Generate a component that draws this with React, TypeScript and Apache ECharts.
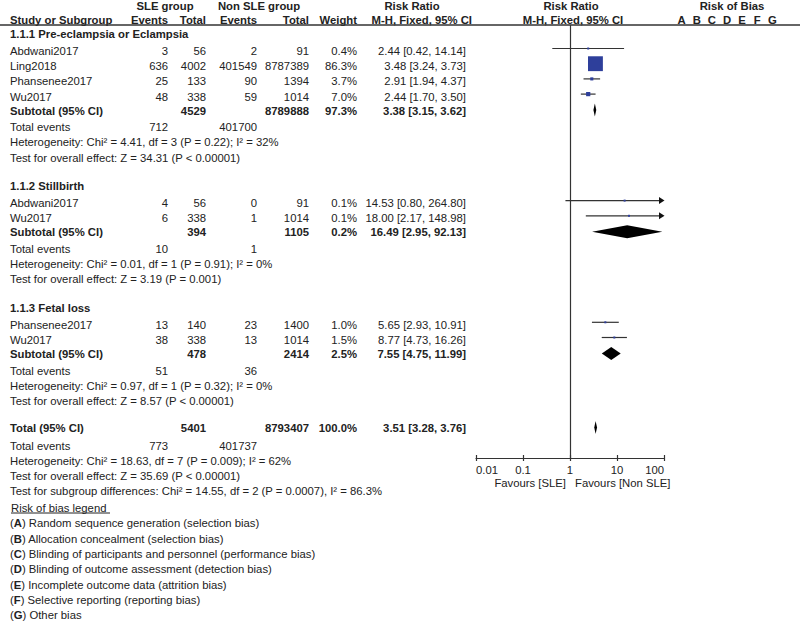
import React, { useEffect, useRef } from "react";
import * as echarts from "echarts";

// ---------- data ----------
const groupTitles = [
  "1.1.1 Pre-eclampsia or Eclampsia",
  "1.1.2 Stillbirth",
  "1.1.3 Fetal loss",
];
const studyGroup = [0, 0, 0, 0, 1, 1, 2, 2];
const studyNames = [
  "Abdwani2017",
  "Ling2018",
  "Phansenee2017",
  "Wu2017",
  "Abdwani2017",
  "Wu2017",
  "Phansenee2017",
  "Wu2017",
];
const sleEvents = [3, 636, 25, 48, 4, 6, 13, 38];
const sleTotal = [56, 4002, 133, 338, 56, 338, 140, 338];
const nonEvents = [2, 401549, 90, 59, 0, 1, 23, 13];
const nonTotal = [91, 8787389, 1394, 1014, 91, 1014, 1400, 1014];
const weights = [0.4, 86.3, 3.7, 7.0, 0.1, 0.1, 1.0, 1.5];
const rr = [2.44, 3.48, 2.91, 2.44, 14.53, 18.0, 5.65, 8.77];
const rrLo = [0.42, 3.24, 1.94, 1.7, 0.8, 2.17, 2.93, 4.73];
const rrHi = [14.14, 3.73, 4.37, 3.5, 264.8, 148.98, 10.91, 16.26];

const subSleTotal = [4529, 394, 478];
const subNonTotal = [8789888, 1105, 2414];
const subWeight = [97.3, 0.2, 2.5];
const subRR = [3.38, 16.49, 7.55];
const subLo = [3.15, 2.95, 4.75];
const subHi = [3.62, 92.13, 11.99];
const subSleEvents = [712, 10, 51];
const subNonEvents = [401700, 1, 36];
const subHet = [
  "Chi² = 4.41, df = 3 (P = 0.22); I² = 32%",
  "Chi² = 0.01, df = 1 (P = 0.91); I² = 0%",
  "Chi² = 0.97, df = 1 (P = 0.32); I² = 0%",
];
const subZ = [
  "Z = 34.31 (P < 0.00001)",
  "Z = 3.19 (P = 0.001)",
  "Z = 8.57 (P < 0.00001)",
];

const totalSle = 5401;
const totalNon = 8793407;
const totalWeight = 100.0;
const totalRR = 3.51;
const totalLo = 3.28;
const totalHi = 3.76;
const totalSleEvents = 773;
const totalNonEvents = 401737;
const totalHet = "Chi² = 18.63, df = 7 (P = 0.009); I² = 62%";
const totalZ = "Z = 35.69 (P < 0.00001)";
const subgroupDiff = "Chi² = 14.55, df = 2 (P = 0.0007), I² = 86.3%";

const tickLabels = ["0.01", "0.1", "1", "10", "100"];
const biasLetters = ["A", "B", "C", "D", "E", "F", "G"];
const biasLegend = [
  "Random sequence generation (selection bias)",
  "Allocation concealment (selection bias)",
  "Blinding of participants and personnel (performance bias)",
  "Blinding of outcome assessment (detection bias)",
  "Incomplete outcome data (attrition bias)",
  "Selective reporting (reporting bias)",
  "Other bias",
];

// ---------- layout ----------
const FONT = 'Arial, "Liberation Sans", sans-serif';
const FS = 11.3;
const COLOR = "#222";
const X_LABEL = 10;
const X_EV1 = 168;
const X_TOT1 = 206;
const X_EV2 = 257;
const X_TOT2 = 309;
const X_W = 357;
const X_RR = 466;
const PLOT_LEFT = 476;
const PLOT_WIDTH = 188;
const PLOT_TOP = 25;
const PLOT_BOTTOM = 458;

function computeLayout() {
  const studyY: number[] = [];
  const headY: number[] = [];
  const subY: number[] = [];
  const teY: number[] = [];
  const hetY: number[] = [];
  const testY: number[] = [];
  let y = 34;
  for (let g = 0; g < groupTitles.length; g++) {
    headY[g] = y;
    y += 17;
    studyGroup.forEach((sg, i) => {
      if (sg === g) {
        studyY[i] = y;
        y += 15.2;
      }
    });
    y = y - 15.2 + 14;
    subY[g] = y;
    y += 16.5;
    teY[g] = y;
    y += 15.3;
    hetY[g] = y;
    y += 15.2;
    testY[g] = y;
    if (g < groupTitles.length - 1) y += 28.5;
  }
  const totY = y + 27;
  const totTE = totY + 17.5;
  const totHet = totTE + 15.3;
  const totTest = totHet + 15.2;
  const diffY = totTest + 14.5;
  const legTitle = diffY + 17.5;
  const legY = biasLegend.map((_, k) => legTitle + 15.3 * (k + 1));
  return { studyY, headY, subY, teY, hetY, testY, totY, totTE, totHet, totTest, diffY, legTitle, legY };
}

function txt(x: number, y: number, text: string, align = "left", bold = false, extra: any = {}) {
  return {
    type: "text",
    x,
    y,
    silent: true,
    style: {
      text,
      align,
      textAlign: align,
      verticalAlign: "middle",
      textVerticalAlign: "middle",
      fontSize: FS,
      fontWeight: bold ? "bold" : "normal",
      fontFamily: FONT,
      fill: COLOR,
      ...extra,
    },
  };
}

const fmtCI = (a: number, b: number, c: number) => `${a.toFixed(2)} [${b.toFixed(2)}, ${c.toFixed(2)}]`;

function buildOption() {
  const L = computeLayout();
  const g: any[] = [];
  // header
  g.push(txt(165, 5.5, "SLE group", "center", true));
  g.push(txt(259, 5.5, "Non SLE group", "center", true));
  g.push(txt(412, 5.5, "Risk Ratio", "center", true));
  g.push(txt(571, 5.5, "Risk Ratio", "center", true));
  g.push(txt(732, 5.5, "Risk of Bias", "center", true));
  g.push(txt(X_LABEL, 20, "Study or Subgroup", "left", true));
  g.push(txt(X_EV1, 20, "Events", "right", true));
  g.push(txt(X_TOT1, 20, "Total", "right", true));
  g.push(txt(X_EV2, 20, "Events", "right", true));
  g.push(txt(X_TOT2, 20, "Total", "right", true));
  g.push(txt(X_W, 20, "Weight", "right", true));
  g.push(txt(472, 20, "M-H, Fixed, 95% CI", "right", true));
  g.push(txt(573, 20, "M-H, Fixed, 95% CI", "center", true));
  biasLetters.forEach((l, i) => g.push(txt(681.7 + i * 15.1, 20, l, "center", true)));
  g.push({
    type: "line",
    silent: true,
    shape: { x1: 0, y1: PLOT_TOP, x2: 800, y2: PLOT_TOP },
    style: { stroke: "#333", lineWidth: 1.5 },
  });

  // groups
  groupTitles.forEach((title, gi) => {
    g.push(txt(X_LABEL, L.headY[gi], title, "left", true));
    studyGroup.forEach((sg, i) => {
      if (sg !== gi) return;
      const y = L.studyY[i];
      g.push(txt(X_LABEL, y, studyNames[i]));
      g.push(txt(X_EV1, y, String(sleEvents[i]), "right"));
      g.push(txt(X_TOT1, y, String(sleTotal[i]), "right"));
      g.push(txt(X_EV2, y, String(nonEvents[i]), "right"));
      g.push(txt(X_TOT2, y, String(nonTotal[i]), "right"));
      g.push(txt(X_W, y, weights[i].toFixed(1) + "%", "right"));
      g.push(txt(X_RR, y, fmtCI(rr[i], rrLo[i], rrHi[i]), "right"));
    });
    const sy = L.subY[gi];
    g.push(txt(X_LABEL, sy, "Subtotal (95% CI)", "left", true));
    g.push(txt(X_TOT1, sy, String(subSleTotal[gi]), "right", true));
    g.push(txt(X_TOT2, sy, String(subNonTotal[gi]), "right", true));
    g.push(txt(X_W, sy, subWeight[gi].toFixed(1) + "%", "right", true));
    g.push(txt(X_RR, sy, fmtCI(subRR[gi], subLo[gi], subHi[gi]), "right", true));
    g.push(txt(X_LABEL, L.teY[gi], "Total events"));
    g.push(txt(X_EV1, L.teY[gi], String(subSleEvents[gi]), "right"));
    g.push(txt(X_EV2, L.teY[gi], String(subNonEvents[gi]), "right"));
    g.push(txt(X_LABEL, L.hetY[gi], "Heterogeneity: " + subHet[gi]));
    g.push(txt(X_LABEL, L.testY[gi], "Test for overall effect: " + subZ[gi]));
  });

  // overall
  g.push(txt(X_LABEL, L.totY, "Total (95% CI)", "left", true));
  g.push(txt(X_TOT1, L.totY, String(totalSle), "right", true));
  g.push(txt(X_TOT2, L.totY, String(totalNon), "right", true));
  g.push(txt(X_W, L.totY, totalWeight.toFixed(1) + "%", "right", true));
  g.push(txt(X_RR, L.totY, fmtCI(totalRR, totalLo, totalHi), "right", true));
  g.push(txt(X_LABEL, L.totTE, "Total events"));
  g.push(txt(X_EV1, L.totTE, String(totalSleEvents), "right"));
  g.push(txt(X_EV2, L.totTE, String(totalNonEvents), "right"));
  g.push(txt(X_LABEL, L.totHet, "Heterogeneity: " + totalHet));
  g.push(txt(X_LABEL, L.totTest, "Test for overall effect: " + totalZ));
  g.push(txt(X_LABEL, L.diffY, "Test for subgroup differences: " + subgroupDiff));
  g.push(txt(X_LABEL + 1, L.legTitle, "Risk of bias legend"));
  g.push({
    type: "line",
    silent: true,
    shape: { x1: 11, y1: L.legTitle + 5, x2: 110, y2: L.legTitle + 5 },
    style: { stroke: COLOR, lineWidth: 1 },
  });
  biasLegend.forEach((t, k) => {
    g.push(
      txt(X_LABEL, L.legY[k], `({b|${biasLetters[k]}}) ${t}`, "left", false, {
        rich: { b: { fontWeight: "bold", fontSize: FS, fontFamily: FONT, fill: COLOR } },
      })
    );
  });

  // favours
  g.push(txt(566, 483, "Favours [SLE]", "right"));
  g.push(txt(575, 483, "Favours [Non SLE]", "left"));

  const studyData = rr.map((v, i) => [v, rrLo[i], rrHi[i], weights[i], L.studyY[i]]);
  const diamondData = subRR
    .map((v, i) => [v, subLo[i], subHi[i], 0, L.subY[i]])
    .concat([[totalRR, totalLo, totalHi, 0, L.totY]]);

  const axisCommon = {
    type: "log",
    logBase: 10,
    min: 0.01,
    max: 100,
    splitNumber: 4,
    gridIndex: 0,
    position: "bottom",
    splitLine: { show: false },
    minorTick: { show: false },
  };

  return {
    animation: false,
    backgroundColor: "#fff",
    grid: { left: PLOT_LEFT, width: PLOT_WIDTH, top: PLOT_TOP, height: PLOT_BOTTOM - PLOT_TOP, containLabel: false },
    xAxis: [
      {
        ...axisCommon,
        axisLine: { show: true, lineStyle: { color: "#333", width: 1.2 } },
        axisTick: { show: true, length: 3, lineStyle: { color: "#333", width: 1.2 } },
        axisLabel: {
          show: true,
          margin: 6,
          fontSize: FS,
          fontFamily: FONT,
          color: COLOR,
          alignMinLabel: "left",
          alignMaxLabel: "right",
          formatter: (v: number) => tickLabels[Math.round(Math.log10(v)) + 2],
        },
      },
      {
        ...axisCommon,
        axisLine: { show: false },
        axisTick: { show: true, inside: true, length: 3, lineStyle: { color: "#333", width: 1.2 } },
        axisLabel: { show: false },
      },
    ],
    yAxis: {
      type: "value",
      min: PLOT_TOP,
      max: PLOT_BOTTOM,
      inverse: true,
      show: false,
      splitLine: { show: false },
    },
    graphic: g,
    series: [
      {
        type: "custom",
        name: "studies",
        clip: false,
        xAxisIndex: 0,
        encode: { x: [0, 1, 2], y: 4 },
        data: studyData,
        renderItem: (params: any, api: any) => {
          const c = api.value(0);
          const lo = api.value(1);
          const hi = api.value(2);
          const w = api.value(3);
          const yv = api.value(4);
          const arrow = hi > 100;
          const pLo = api.coord([lo, yv]);
          const pHi = api.coord([Math.min(hi, 100), yv]);
          const pC = api.coord([c, yv]);
          const yy = pC[1] - 2.5;
          const s = Math.max(2, 16 * Math.sqrt(w / 100));
          const endX = arrow ? pHi[0] - 4 : pHi[0];
          const children: any[] = [
            { type: "line", shape: { x1: pLo[0], y1: yy, x2: endX, y2: yy }, style: { stroke: "#333", lineWidth: 1.2 } },
            { type: "rect", shape: { x: pC[0] - s / 2, y: yy - s / 2, width: s, height: s }, style: { fill: "#2E3F9B" } },
          ];
          if (arrow) {
            children.push({
              type: "polygon",
              shape: { points: [[pHi[0] - 5, yy - 3.5], [pHi[0] + 0.5, yy], [pHi[0] - 5, yy + 3.5]] },
              style: { fill: "#111" },
            });
          }
          return { type: "group", children };
        },
        markLine: {
          silent: true,
          symbol: "none",
          label: { show: false },
          lineStyle: { color: "#333", type: "solid", width: 1.2 },
          data: [{ xAxis: 1 }],
        },
      },
      {
        type: "custom",
        name: "diamonds",
        clip: false,
        xAxisIndex: 0,
        encode: { x: [0, 1, 2], y: 4 },
        data: diamondData,
        renderItem: (params: any, api: any) => {
          const c = api.value(0);
          const lo = api.value(1);
          const hi = api.value(2);
          const yv = api.value(4);
          const pLo = api.coord([lo, yv]);
          const pHi = api.coord([hi, yv]);
          const pC = api.coord([c, yv]);
          const yy = pC[1] - 0.5;
          return {
            type: "polygon",
            shape: { points: [[pLo[0], yy], [pC[0], yy - 6.5], [pHi[0], yy], [pC[0], yy + 6.5]] },
            style: { fill: "#000" },
          };
        },
      },
    ],
  };
}

export default function App() {
  const ref = useRef<HTMLDivElement>(null);
  useEffect(() => {
    if (!ref.current) return;
    const chart = echarts.init(ref.current, null, { renderer: "svg", width: 800, height: 621 });
    chart.setOption(buildOption() as any);
    return () => chart.dispose();
  }, []);
  return (
    <div
      ref={ref}
      style={{ position: "absolute", left: 0, top: 0, width: 800, height: 621, background: "#fff" }}
    />
  );
}
